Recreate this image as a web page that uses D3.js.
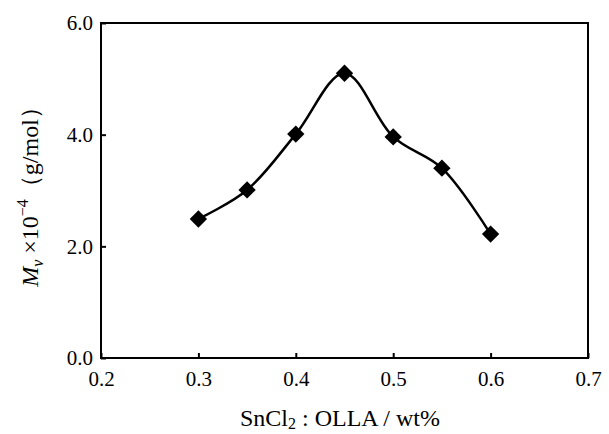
<!DOCTYPE html>
<html>
<head>
<meta charset="utf-8">
<script src="https://cdn.jsdelivr.net/npm/d3@7"></script>
<style>
  body { margin: 0; background: #fff; }
</style>
</head>
<body>
<div id="vis"></div>
<script>
var width = 609;
var height = 434;
var serif = '"Liberation Serif", "Times New Roman", "DejaVu Serif", serif';

// data
var ratios = [0.30, 0.35, 0.40, 0.45, 0.50, 0.55, 0.60];
var mv = [2.49, 3.01, 4.01, 5.10, 3.96, 3.40, 2.22];
var xTicks = [0.2, 0.3, 0.4, 0.5, 0.6, 0.7];
var yTicks = [0.0, 2.0, 4.0, 6.0];

var margin = {top: 23, right: 21, bottom: 76, left: 101};

var x = d3.scaleLinear().domain([0.2, 0.7]).range([margin.left, width - margin.right]);
var y = d3.scaleLinear().domain([0, 6]).range([height - margin.bottom, margin.top]);

var svg = d3.select("#vis")
  .append("svg")
  .attr("width", width)
  .attr("height", height);

// frame
svg.append("rect")
  .attr("x", x(0.2))
  .attr("y", y(6))
  .attr("width", x(0.7) - x(0.2))
  .attr("height", y(0) - y(6))
  .attr("fill", "none")
  .attr("stroke", "#000")
  .attr("stroke-width", 2);

// inward ticks
var xAxis = svg.append("g")
  .attr("transform", `translate(0,${y(0)})`)
  .call(d3.axisBottom(x).tickValues(xTicks).tickSizeInner(-5).tickSizeOuter(0).tickPadding(13).tickFormat(d3.format(".1f")));
xAxis.attr("font-family", serif).attr("font-size", 21);
xAxis.select(".domain").remove();
xAxis.selectAll("line").attr("stroke-width", 2);

var yAxis = svg.append("g")
  .attr("transform", `translate(${x(0.2)},0)`)
  .call(d3.axisLeft(y).tickValues(yTicks).tickSizeInner(-5).tickSizeOuter(0).tickPadding(8).tickFormat(d3.format(".1f")));
yAxis.attr("font-family", serif).attr("font-size", 21);
yAxis.select(".domain").remove();
yAxis.selectAll("line").attr("stroke-width", 2);

// curve
var pts = ratios.map((r, i) => [r, mv[i]]);
var line = d3.line()
  .x(d => x(d[0]))
  .y(d => y(d[1]))
  .curve(d3.curveCatmullRom.alpha(0.5));

svg.append("path")
  .datum(pts)
  .attr("d", line)
  .attr("fill", "none")
  .attr("stroke", "#000")
  .attr("stroke-width", 2.5);

svg.append("g")
  .selectAll("path")
  .data(pts)
  .enter()
  .append("path")
  .attr("d", d3.symbol(d3.symbolSquare, 150))
  .attr("transform", d => `translate(${x(d[0])},${y(d[1])}) rotate(45)`)
  .attr("fill", "#000");

// axis titles
svg.append("text")
  .attr("x", 340)
  .attr("y", 426)
  .attr("text-anchor", "middle")
  .attr("font-family", serif)
  .attr("font-size", 24)
  .html('SnCl<tspan dy="3" font-size="16">2</tspan><tspan dy="-3"> : OLLA / wt%</tspan>');

svg.append("text")
  .attr("transform", `translate(38,191) rotate(-90)`)
  .attr("text-anchor", "middle")
  .attr("font-family", serif)
  .attr("font-size", 24)
  .html('<tspan font-style="italic">M</tspan><tspan font-style="italic" dy="5" font-size="16">v</tspan><tspan dy="-5"> ×10</tspan><tspan dy="-10" font-size="16">−4</tspan><tspan dy="10">（g/mol）</tspan>');
</script>
</body>
</html>
